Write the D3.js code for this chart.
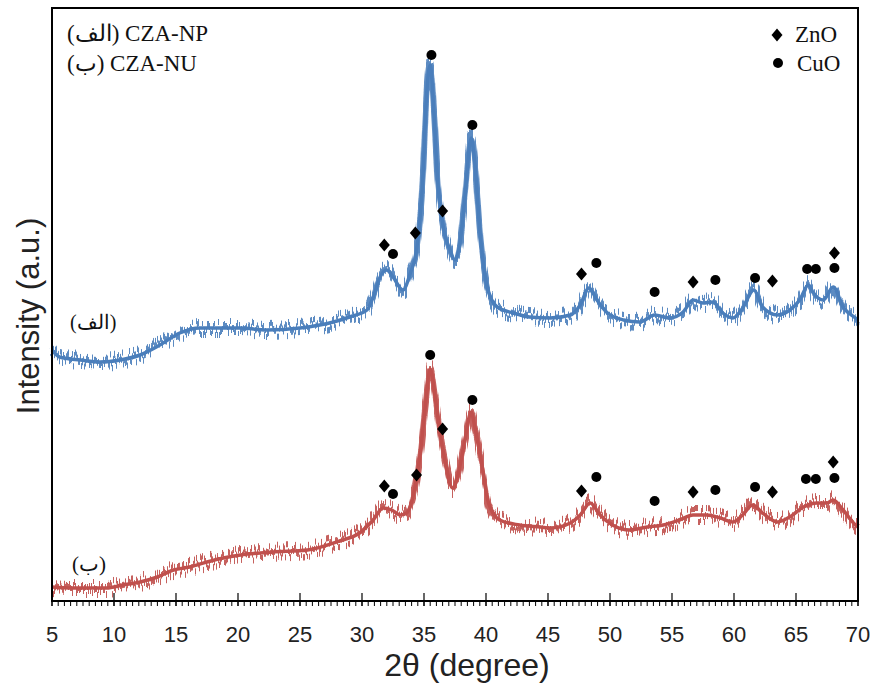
<!DOCTYPE html>
<html>
<head>
<meta charset="utf-8">
<script src="https://cdn.jsdelivr.net/npm/d3@7"></script>
<style>
  body { margin: 0; background: #fff; }
  svg { display: block; }
</style>
</head>
<body>
<div id="myPlot"></div>
<script>
// 2theta positions and intensities (arbitrary units)
const npTheta = [5.0, 5.6, 7.3, 8.9, 10.5, 12.1, 13.7, 15.3, 16.9, 20.2, 22.3, 25.0, 27.7, 29.0, 30.4, 30.9, 31.5, 32.0, 32.5, 33.3, 33.9, 34.4, 34.9, 35.2, 35.5, 35.8, 36.1, 36.5, 37.1, 37.5, 37.9, 38.3, 38.8, 39.1, 39.5, 40.1, 40.9, 42.2, 43.5, 45.2, 46.8, 47.6, 48.3, 48.95, 49.8, 51.1, 52.4, 53.6, 54.8, 55.9, 56.7, 57.5, 58.3, 59.1, 59.9, 60.7, 61.6, 62.3, 63.5, 64.5, 65.3, 66.0, 66.4, 67.2, 68.0, 68.8, 69.8, 70.0];
const npIntensity = [251, 244, 241, 239, 241, 246, 256, 268, 273, 273, 271, 273, 279, 284, 291, 304, 325, 331, 324, 311, 328, 351, 421, 504, 536, 488, 421, 378, 351, 341, 358, 404, 463, 438, 371, 314, 294, 288, 284, 283, 286, 296, 313, 301, 288, 281, 279, 286, 283, 289, 301, 298, 299, 288, 283, 293, 311, 294, 286, 291, 301, 316, 308, 301, 314, 294, 283, 281];

const nuTheta = [5.0, 6.7, 9.4, 10.7, 12.1, 13.5, 14.8, 16.1, 17.5, 18.8, 20.2, 22.8, 25.6, 28.2, 29.8, 30.9, 31.7, 32.4, 33.1, 33.6, 34.1, 34.7, 35.1, 35.5, 35.9, 36.3, 36.8, 37.3, 37.7, 38.3, 38.8, 39.1, 39.7, 40.2, 41.1, 42.7, 44.4, 45.2, 46.8, 47.6, 48.4, 49.2, 50.2, 51.6, 53.0, 54.3, 55.6, 56.7, 57.8, 58.9, 59.9, 60.7, 61.5, 62.3, 63.5, 64.5, 65.6, 66.7, 67.5, 68.0, 68.8, 69.8, 70.0];
const nuIntensity = [14, 13, 13, 16, 19, 24, 31, 34, 39, 43, 46, 49, 51, 60, 68, 81, 93, 91, 86, 88, 104, 148, 194, 232, 204, 168, 134, 113, 124, 161, 189, 174, 134, 98, 81, 76, 74, 73, 78, 86, 98, 86, 76, 71, 74, 76, 81, 86, 86, 83, 79, 86, 96, 88, 79, 84, 94, 98, 98, 101, 91, 76, 74];

// phase markers: [2theta, intensity]
const znoNP = [[31.8, 356], [34.3, 368], [36.5, 390], [47.7, 327], [56.7, 319], [63.1, 320], [68.1, 348]];
const cuoNP = [[32.5, 347], [35.6, 546], [38.9, 476], [48.9, 338], [53.6, 309], [58.5, 321], [61.7, 323], [65.9, 332], [66.6, 332], [68.1, 333]];
const znoNU = [[31.8, 115], [34.4, 126], [36.5, 172], [47.7, 110], [56.7, 109], [63.1, 109], [68.0, 139]];
const cuoNU = [[32.5, 107], [35.5, 246], [38.9, 201], [48.9, 124], [53.6, 100], [58.5, 111], [61.7, 114], [65.8, 122], [66.6, 122], [68.1, 123]];

const xTicks = d3.range(5, 71, 5);

// Set Dimensions
const svgW = 875;
const svgH = 683;
const margin = { top: 8, right: 17, bottom: 82, left: 52 };
const width = svgW - margin.left - margin.right;
const height = svgH - margin.top - margin.bottom;

const blue = "#4a7ebb";
const red = "#c0504d";
const sans = "Liberation Sans, Arial, sans-serif";
const serif = "Liberation Serif, Times New Roman, serif";

const svg = d3.select("#myPlot")
  .append("svg")
  .attr("width", svgW)
  .attr("height", svgH);

// jagged look of the counting noise (a visual filter only, data untouched)
const filt = svg.append("defs").append("filter")
  .attr("id", "jitter")
  .attr("color-interpolation-filters", "sRGB")
  .attr("x", "-2%").attr("y", "-30%")
  .attr("width", "104%").attr("height", "160%");
filt.append("feTurbulence")
  .attr("type", "fractalNoise")
  .attr("baseFrequency", "0.7 0.005")
  .attr("numOctaves", 3)
  .attr("seed", 7)
  .attr("result", "n");
// flat red channel (no sideways move), stretched green channel
filt.append("feColorMatrix")
  .attr("in", "n")
  .attr("type", "matrix")
  .attr("values", "0 0 0 0 0.5  0 2.6 0 0 -0.8  0 0 0 0 0  0 0 0 0 1")
  .attr("result", "ny");
filt.append("feDisplacementMap")
  .attr("in", "SourceGraphic")
  .attr("in2", "ny")
  .attr("scale", 14)
  .attr("xChannelSelector", "R")
  .attr("yChannelSelector", "G");

const g = svg.append("g")
  .attr("transform", "translate(" + margin.left + "," + margin.top + ")");

const x = d3.scaleLinear().domain([5, 70]).range([0, width]);
const y = d3.scaleLinear().domain([0, height]).range([height, 0]);

// curves
const line = d3.line()
  .x(d => x(d[0]))
  .y(d => y(d[1]))
  .curve(d3.curveMonotoneX);

const drawPattern = (theta, inten, color) => {
  const pts = theta.map((t, i) => [t, inten[i]]);
  g.append("path")
    .datum(pts)
    .attr("d", line)
    .attr("fill", "none")
    .attr("stroke", color)
    .attr("stroke-width", 6)
    .attr("stroke-opacity", 0.9)
    .attr("filter", "url(#jitter)");
  g.append("path")
    .datum(pts)
    .attr("d", line)
    .attr("fill", "none")
    .attr("stroke", color)
    .attr("stroke-width", 3.5)
    .attr("stroke-linejoin", "round");
}

drawPattern(npTheta, npIntensity, blue);
drawPattern(nuTheta, nuIntensity, red);

// markers
const diamond = "M0,-6.5L5.5,0L0,6.5L-5.5,0Z";
const drawMarkers = (pts) => {
  g.append("g").selectAll("circle")
    .data(pts.cuo).enter()
    .append("circle")
    .attr("cx", d => x(d[0]))
    .attr("cy", d => y(d[1]))
    .attr("r", 5)
    .attr("fill", "#000");
  g.append("g").selectAll("path")
    .data(pts.zno).enter()
    .append("path")
    .attr("d", diamond)
    .attr("transform", d => "translate(" + x(d[0]) + "," + y(d[1]) + ")")
    .attr("fill", "#000");
}
drawMarkers({ zno: znoNP, cuo: cuoNP });
drawMarkers({ zno: znoNU, cuo: cuoNU });

// frame
g.append("rect")
  .attr("x", 0).attr("y", 0)
  .attr("width", width).attr("height", height)
  .attr("fill", "none")
  .attr("stroke", "#000")
  .attr("stroke-width", 2);

// minor ticks (outside) every 0.5
g.append("g")
  .selectAll("line")
  .data(d3.range(5, 70.01, 0.5)).enter()
  .append("line")
  .attr("x1", d => x(d)).attr("x2", d => x(d))
  .attr("y1", height).attr("y2", height + 5)
  .attr("stroke", "#000")
  .attr("stroke-width", 1);

// major ticks
g.append("g")
  .selectAll("line")
  .data(xTicks).enter()
  .append("line")
  .attr("x1", d => x(d)).attr("x2", d => x(d))
  .attr("y1", height - 8).attr("y2", height + 5)
  .attr("stroke", "#000")
  .attr("stroke-width", 1.2);

g.append("g")
  .selectAll("text")
  .data(xTicks).enter()
  .append("text")
  .attr("x", d => x(d))
  .attr("y", height + 41)
  .attr("text-anchor", "middle")
  .attr("font-family", sans)
  .attr("font-size", 22)
  .attr("fill", "#222")
  .text(d => d);

// axis titles
svg.append("text")
  .attr("x", 467)
  .attr("y", 676)
  .attr("text-anchor", "middle")
  .attr("font-family", sans)
  .attr("font-size", 32)
  .attr("fill", "#222")
  .text("2θ (degree)");

svg.append("text")
  .attr("transform", "translate(39, 316) rotate(-90)")
  .attr("text-anchor", "middle")
  .attr("font-family", sans)
  .attr("font-size", 31)
  .attr("fill", "#222")
  .text("Intensity (a.u.)");

// sample legend (top left)
svg.append("text")
  .attr("x", 67).attr("y", 41)
  .attr("font-family", serif).attr("font-size", 23).attr("fill", "#111")
  .text("(الف) CZA-NP");
svg.append("text")
  .attr("x", 67).attr("y", 71)
  .attr("font-family", serif).attr("font-size", 23).attr("fill", "#111")
  .text("(ب) CZA-NU");

// curve labels
svg.append("text")
  .attr("x", 70).attr("y", 329)
  .attr("font-family", serif).attr("font-size", 20).attr("fill", "#111")
  .text("(الف)");
svg.append("text")
  .attr("x", 72).attr("y", 571)
  .attr("font-family", serif).attr("font-size", 21).attr("fill", "#111")
  .text("(ب)");

// phase legend (top right)
svg.append("path")
  .attr("d", diamond)
  .attr("transform", "translate(777, 35)")
  .attr("fill", "#000");
svg.append("text")
  .attr("x", 795).attr("y", 42)
  .attr("font-family", serif).attr("font-size", 23).attr("fill", "#111")
  .text("ZnO");
svg.append("circle")
  .attr("cx", 778).attr("cy", 63).attr("r", 5)
  .attr("fill", "#000");
svg.append("text")
  .attr("x", 797).attr("y", 71)
  .attr("font-family", serif).attr("font-size", 23).attr("fill", "#111")
  .text("CuO");
</script>
</body>
</html>
